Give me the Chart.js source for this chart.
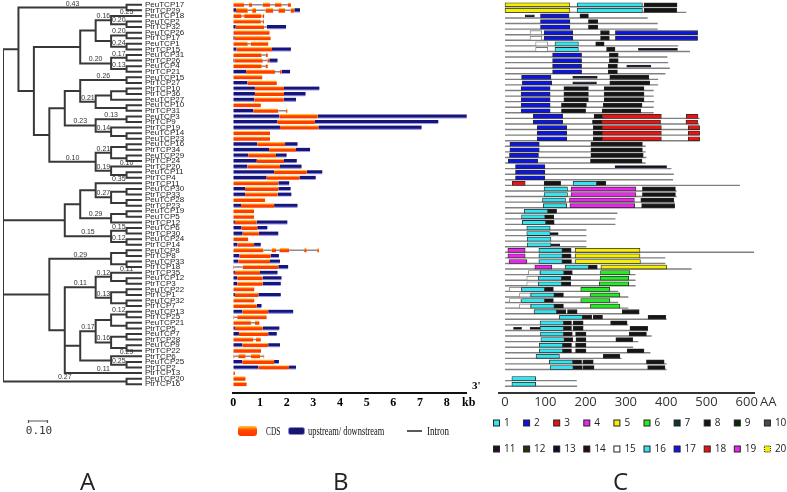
<!DOCTYPE html>
<html>
<head>
<meta charset="utf-8">
<script src="https://cdn.jsdelivr.net/npm/chart.js@4.4.1/dist/chart.umd.min.js"></script>
<style>
html, body { margin: 0; padding: 0; background: #fff; }
#wrap { position: relative; width: 787px; height: 492px; overflow: hidden; }
canvas { position: absolute; top: 0; }
.panel { position: absolute; top: 469px; font: 24px/24px "Open Sans", sans-serif; color: #222; }
</style>
</head>
<body>
<div id="wrap">
  <canvas id="treeChart" width="225" height="492" style="left:0"></canvas>
  <canvas id="geneChart" width="262" height="492" style="left:225px"></canvas>
  <canvas id="motifChart" width="300" height="492" style="left:487px"></canvas>
  <div class="panel" style="left:80px">A</div>
  <div class="panel" style="left:333px">B</div>
  <div class="panel" style="left:613px">C</div>
</div>
<script>
// 基因名（行顺序，自上而下）
const geneNames = [
  'PeuTCP17','PtrTCP29','PeuTCP18','PeuTCP2','PtrTCP32','PeuTCP26','PtrTCP17','PeuTCP1','PtrTCP15',
  'PeuTCP31','PtrTCP26','PeuTCP4','PtrTCP21','PeuTCP15','PtrTCP27','PtrTCP10','PtrTCP36','PeuTCP27',
  'PeuTCP10','PtrTCP31','PeuTCP3','PtrTCP9','PtrTCP19','PeuTCP14','PeuTCP23','PeuTCP16','PtrTCP34',
  'PeuTCP29','PtrTCP24','PtrTCP20','PeuTCP11','PtrTCP4','PtrTCP11','PeuTCP30','PtrTCP33','PeuTCP28',
  'PtrTCP23','PeuTCP19','PeuTCP5','PtrTCP12','PeuTCP6','PtrTCP30','PeuTCP24','PtrTCP14','PeuTCP8',
  'PtrTCP8','PeuTCP33','PtrTCP18','PtrTCP35','PeuTCP12','PtrTCP3','PeuTCP22','PtrTCP1','PeuTCP32',
  'PtrTCP7','PeuTCP13','PtrTCP25','PeuTCP21','PtrTCP5','PeuTCP7','PtrTCP28','PeuTCP9','PtrTCP22',
  'PtrTCP6','PeuTCP25','PtrTCP2','PtrTCP13','PeuTCP20','PtrTCP16'
];

// 进化树 (Newick, 节点后的数字为支持值, [..] 为末端枝的支持值)
const cladeC = '(((PeuTCP18[0.25],(PeuTCP2,PtrTCP32)0.20)0.16,((PeuTCP26,PtrTCP17)0.20,(PeuTCP1,PtrTCP15)0.24)),((PeuTCP31,PtrTCP26)0.17,(PeuTCP4,PtrTCP21)0.13)0.20)';
const cladeD = '((((PeuTCP15,PtrTCP27)0.26,(((PtrTCP10,PtrTCP36),PeuTCP27),(PeuTCP10,PtrTCP31))0.21),((PeuTCP3,PtrTCP9)0.13,(PtrTCP19,(PeuTCP14,PeuTCP23))0.14)0.23),(((PeuTCP16,PtrTCP34),(PeuTCP29,PtrTCP24))0.21,(PtrTCP20[0.10],(PeuTCP11,PtrTCP4))0.19)0.10)';
const cladeS = '(((PtrTCP11[0.35],((PeuTCP30,PtrTCP33),(PeuTCP28,PtrTCP23))0.27),((PeuTCP19,PeuTCP5),PtrTCP12)0.29),((PeuTCP6,PtrTCP30)0.15,(PeuTCP24,PtrTCP14)0.12)0.15)';
const cladeAB = '(((PtrTCP35[0.11],(PeuTCP12,PtrTCP3))0.12,((PeuTCP22,PtrTCP1),(PeuTCP32,PtrTCP7))0.13)0.11,((((PeuTCP13,PtrTCP25)0.12,(PeuTCP21,PtrTCP5)),((PeuTCP7,PtrTCP28),(PeuTCP9,PtrTCP22))0.16)0.17,(PtrTCP6[0.29],(PeuTCP25,PtrTCP2)0.25)),PtrTCP13[0.11]))';
const cladeZ = '((((PeuTCP8,PtrTCP8),(PeuTCP33,PtrTCP18))0.29,' + cladeAB + '),(PeuTCP20,PtrTCP16)0.27)';
const treeNewick = '(((PeuTCP17,PtrTCP29)0.43,(' + cladeC + ',' + cladeD + ')),' + cladeS + ',' + cladeZ + ');';

// 基因结构 (kb): [起点, 终点, 'C'=CDS / 'U'=上下游]
const geneSegments = [
  [[0,0.4,'C'],[0.59,0.71,'C'],[1.1,1.375,'C'],[1.56,1.81,'C'],[2.04,2.16,'C']],
  [[0,0.1,'U'],[0.1,0.54,'C'],[0.71,0.85,'C'],[1.21,1.5,'C'],[1.69,1.94,'C'],[2.15,2.29,'C'],[2.29,2.5,'U']],
  [[0,0.31,'C'],[0.41,1.04,'C'],[1.1,1.16,'C']],
  [[0,1.03,'C'],[1.1,1.15,'C']],
  [[0,0.09,'U'],[0.09,1.15,'C'],[1.26,1.98,'U']],
  [[0,1.36,'C']],
  [[0,0.05,'U'],[0.05,1.4,'C']],
  [[0,0.54,'C'],[0.65,1.31,'C']],
  [[0,0.12,'U'],[0.12,1.45,'C'],[1.45,2.16,'U']],
  [[0,1.06,'C'],[1.22,1.29,'C']],
  [[0,0.04,'U'],[0.04,1.1,'C'],[1.28,1.35,'C'],[1.35,1.66,'U']],
  [[0,1.06,'C'],[1.21,1.29,'C']],
  [[0,0.48,'U'],[0.48,1.56,'C'],[1.75,1.81,'C'],[1.81,2.13,'U']],
  [[0,1.09,'C']],
  [[0,0.53,'U'],[0.53,1.63,'C']],
  [[0,0.81,'U'],[0.81,1.9,'C'],[1.9,3.23,'U']],
  [[0,0.81,'U'],[0.81,1.9,'C'],[1.9,2.71,'U']],
  [[0,0.79,'U'],[0.79,1.89,'C'],[1.89,2.35,'U']],
  [[0,1.03,'C']],
  [[0,0.75,'U'],[0.75,1.69,'C'],[1.98,2.03,'C']],
  [[0,1.73,'U'],[1.73,3.16,'C'],[3.16,8.78,'U']],
  [[0,1.66,'U'],[1.66,3.06,'C'],[3.06,7.69,'U']],
  [[0,1.75,'U'],[1.75,3.19,'C'],[3.19,7.06,'U']],
  [[0,1.375,'C']],
  [[0,1.375,'C']],
  [[0,0.9,'U'],[0.9,1.94,'C'],[1.94,2.41,'U']],
  [[0,1.34,'U'],[1.34,2.35,'C'],[2.35,2.88,'U']],
  [[0,0.56,'U'],[0.56,1.6,'C'],[1.6,2.0,'U']],
  [[0,0.88,'U'],[0.88,1.9,'C'],[1.9,2.38,'U']],
  [[0,0.53,'U'],[0.53,1.75,'C'],[1.75,2.56,'U']],
  [[0,1.53,'U'],[1.53,2.75,'C'],[2.75,3.34,'U']],
  [[0,1.25,'U'],[1.25,2.48,'C'],[2.48,3.09,'U']],
  [[0,1.69,'C'],[1.69,2.1,'U']],
  [[0,0.44,'U'],[0.44,1.69,'C'],[1.69,2.15,'U']],
  [[0,0.44,'U'],[0.44,1.66,'C'],[1.66,2.18,'U']],
  [[0,1.19,'C']],
  [[0,0.29,'U'],[0.29,1.53,'C'],[1.53,2.41,'U']],
  [[0,0.78,'C']],
  [[0,0.78,'C']],
  [[0,0.06,'U'],[0.06,0.88,'C'],[0.88,2.03,'U']],
  [[0,0.31,'U'],[0.31,0.9,'C'],[0.9,1.28,'U']],
  [[0,0.35,'U'],[0.35,0.96,'C'],[0.96,1.69,'U']],
  [[0,0.56,'C']],
  [[0,0.16,'U'],[0.16,0.78,'C'],[0.78,1.03,'U']],
  [[0,1.13,'C'],[1.44,1.6,'C'],[1.73,2.09,'C'],[2.66,2.75,'C'],[3.15,3.21,'C']],
  [[0,0.23,'U'],[0.23,1.4,'C'],[1.4,1.71,'U']],
  [[0,0.19,'U'],[0.19,1.375,'C'],[1.375,1.75,'U']],
  [[0,0.03,'C'],[0.35,1.69,'C'],[1.69,2.06,'U']],
  [[0,0.06,'U'],[0.06,1.0,'C'],[1.0,1.66,'U']],
  [[0,0.15,'U'],[0.15,1.1,'C'],[1.1,1.81,'U']],
  [[0,0.15,'U'],[0.15,1.1,'C'],[1.1,1.78,'U']],
  [[0,0.79,'C']],
  [[0,0.06,'U'],[0.06,0.94,'C'],[0.94,1.78,'U']],
  [[0,0.79,'C']],
  [[0,0.88,'C'],[0.88,1.06,'U']],
  [[0,0.34,'U'],[0.34,1.31,'C'],[1.31,2.25,'U']],
  [[0,0.03,'C'],[0.15,1.25,'C']],
  [[0,0.66,'C'],[0.81,0.98,'C']],
  [[0,0.06,'U'],[0.06,1.1,'C'],[1.1,1.73,'U']],
  [[0,0.21,'U'],[0.21,1.31,'C'],[1.31,1.63,'U']],
  [[0,0.75,'C'],[0.85,1.03,'C']],
  [[0,0.34,'U'],[0.34,1.31,'C'],[1.31,1.75,'U']],
  [[0,1.04,'C']],
  [[0,0.04,'C'],[0.19,0.46,'C'],[0.66,1.0,'C'],[1.13,1.16,'C']],
  [[0,0.34,'U'],[0.34,1.53,'C'],[1.53,1.71,'U']],
  [[0,0.94,'U'],[0.94,2.09,'C'],[2.09,2.35,'U']],
  [[0,0.06,'C']],
  [[0,0.46,'C']],
  [[0,0.5,'C']]
];
const kbTicks = [0, 1, 2, 3, 4, 5, 6, 7, 8];

// 蛋白长度 (AA)
const proteinLength = [
  427,450,354,379,379,478,478,430,459,403,405,409,398,380,380,369,369,370,369,369,
  483,481,483,483,483,349,349,351,349,413,419,417,583,426,426,421,421,279,274,274,
  202,202,202,202,628,398,398,463,324,324,324,281,306,281,306,333,401,306,355,364,
  331,318,361,289,401,401,0,178,179
];
// 基序: [编号, 起点, 终点]
const motifHits = [
  [[5,0,161],[1,179,341],[8,345,427]],
  [[5,0,161],[1,179,341],[8,345,426]],
  [[13,50,73],[2,88,159],[8,186,207]],
  [[2,88,161],[8,207,230]],
  [[2,88,161],[8,207,230]],
  [[15,62,91],[2,97,168],[8,237,259],[2,274,478]],
  [[15,62,91],[2,97,168],[8,237,259],[2,274,478]],
  [[15,76,106],[1,124,182],[8,225,246]],
  [[15,76,106],[1,124,182],[8,252,273],[13,331,428]],
  [[2,118,190],[8,259,281]],
  [[2,118,190],[8,259,281]],
  [[2,118,190],[8,256,279],[13,302,362]],
  [[2,118,190],[8,256,279]],
  [[2,41,114],[13,168,229],[8,260,357]],
  [[2,43,116],[13,168,227],[8,260,359]],
  [[2,40,112],[8,146,207],[8,246,345]],
  [[2,40,112],[8,146,207],[8,246,345]],
  [[2,40,112],[8,146,207],[8,246,345]],
  [[2,40,112],[8,140,202],[8,244,340]],
  [[2,40,112],[8,140,200],[8,241,337]],
  [[2,70,143],[8,221,242],[3,242,388],[3,450,479]],
  [[2,70,143],[8,217,240],[3,240,386],[3,449,478]],
  [[2,80,153],[8,219,241],[3,241,388],[3,455,483]],
  [[2,80,153],[8,219,241],[3,241,388],[3,455,483]],
  [[2,80,153],[8,219,241],[3,241,388],[3,455,483]],
  [[2,12,85],[8,213,341]],
  [[2,12,85],[8,213,341]],
  [[2,11,83],[8,213,343]],
  [[2,8,81],[8,212,340]],
  [[2,26,99],[13,273,401]],
  [[2,26,99]],
  [[2,26,99]],
  [[3,18,50],[8,97,138],[1,169,227],[8,227,250]],
  [[1,97,155],[4,164,325],[8,341,423]],
  [[1,97,155],[4,164,325],[8,341,423]],
  [[1,93,150],[4,160,321],[8,337,419]],
  [[1,95,153],[4,161,322],[8,339,421]],
  [[1,48,106],[8,106,128]],
  [[1,41,99],[8,99,121]],
  [[1,43,101],[8,101,122]],
  [[1,54,112]],
  [[1,54,112],[13,112,132]],
  [[1,55,114]],
  [[1,55,114],[13,114,136]],
  [[4,7,50],[1,84,142],[8,142,164],[5,174,335]],
  [[4,7,50],[1,84,142],[8,142,164],[5,174,335]],
  [[4,10,54],[1,84,142],[8,142,165],[5,174,336]],
  [[4,74,116],[1,149,207],[8,207,229],[5,238,401]],
  [[15,58,87],[1,87,146],[8,146,167],[6,237,310]],
  [[15,54,83],[1,83,140],[8,140,163],[6,236,307]],
  [[15,54,83],[1,83,140],[8,140,163],[6,234,307]],
  [[15,11,41],[1,41,98],[8,98,120],[6,188,260]],
  [[15,36,64],[1,64,122],[8,122,145],[6,212,285]],
  [[15,11,40],[1,41,98],[8,98,120],[6,188,260]],
  [[15,36,64],[1,64,122],[8,122,145],[6,212,285]],
  [[1,72,128],[8,128,151],[8,155,179],[8,291,333]],
  [[1,135,192],[8,192,215],[8,219,242],[8,355,399]],
  [[1,87,145],[8,145,165],[8,169,194],[8,262,303]],
  [[13,21,41],[13,62,87],[1,87,145],[8,145,165],[8,169,194],[8,310,354]],
  [[1,88,145],[8,145,167],[8,175,201],[8,308,351]],
  [[1,89,147],[8,147,168],[8,176,201],[8,275,317]],
  [[1,85,143],[8,143,165],[8,175,201]],
  [[1,85,143],[8,143,165],[8,175,201],[8,303,345]],
  [[1,77,135],[8,244,285]],
  [[1,110,168],[8,168,190],[8,193,219],[8,351,395]],
  [[1,112,169],[8,169,192],[8,194,221],[8,354,397]],
  [],
  [[1,17,76]],
  [[1,17,76]]
];
const aaTicks = [0, 100, 200, 300, 400, 500, 600];
const motifIds = [1,2,3,4,5,6,7,8,9,10,11,12,13,14,15,16,17,18,19,20];
const motifColors = [
  '#35e4ee','#0c16e4','#ec1212','#ee24ee','#f4ee00','#22ec22','#0e3434','#151515','#0c260c','#4a4a4a',
  '#2c0c2c','#2e2e10','#0c0c2e','#2e0c0c','#ffffff','#35e4ee','#1212ee','#ec1212','#ee24ee','#f4ee00'
];

// 版面常量
const ROW_PX = 5.58;
const AREA_TOP = 2;
const AREA_BOTTOM = 393;
const PAGE_H = 492;
const Y_MAX = 0.5 + (AREA_BOTTOM - AREA_TOP) / ROW_PX;

// 解析 Newick
function parseNewick(s) {
    let i = 0;
    function node() {
        const n = { children: [], name: '', label: '' };
        if (s[i] === '(') {
            i++;
            n.children.push(node());
            while (s[i] === ',') { i++; n.children.push(node()); }
            i++; // ')'
            while (i < s.length && /[0-9.]/.test(s[i])) n.label += s[i++];
        } else {
            while (i < s.length && /[A-Za-z0-9_]/.test(s[i])) n.name += s[i++];
            if (s[i] === '[') {
                i++;
                while (s[i] !== ']') n.label += s[i++];
                i++;
            }
        }
        return n;
    }
    return node();
}

// 计算节点高度和行位置
function layoutTree(n) {
    if (!n.children.length) {
        n.height = 0;
        n.y = geneNames.indexOf(n.name) + 1;
        return;
    }
    n.children.forEach(layoutTree);
    n.height = 1 + Math.max(...n.children.map(c => c.height));
    n.y = (n.children[0].y + n.children[n.children.length - 1].y) / 2;
}

const treeRoot = parseNewick(treeNewick);
layoutTree(treeRoot);
const treeDepth = treeRoot.height;
const treeSegments = [];
const supportLabels = [];

function collectBranches(n, parentX) {
    n.x = treeDepth - n.height;
    if (n.label && parentX !== null) {
        supportLabels.push({ x: (parentX + n.x) / 2, y: n.y, text: n.label });
    }
    if (!n.children.length) return;
    n.children.forEach(c => { c.x = treeDepth - c.height; });
    const first = n.children[0];
    const last = n.children[n.children.length - 1];
    treeSegments.push(
        { x: first.x, y: first.y }, { x: n.x, y: first.y },
        { x: n.x, y: last.y }, { x: last.x, y: last.y },
        { x: null, y: null }
    );
    n.children.slice(1, -1).forEach(c => {
        treeSegments.push({ x: n.x, y: c.y }, { x: c.x, y: c.y }, { x: null, y: null });
    });
    n.children.forEach(c => collectBranches(c, n.x));
}
collectBranches(treeRoot, null);

// 进化树上的支持值、比例尺
const treeExtras = {
    id: 'treeExtras',
    afterDatasetsDraw(chart) {
        const { ctx, scales: { x, y } } = chart;
        ctx.save();
        ctx.font = '7px "Liberation Sans", Arial, sans-serif';
        ctx.fillStyle = '#333';
        ctx.textAlign = 'center';
        ctx.textBaseline = 'bottom';
        supportLabels.forEach(l => {
            ctx.fillText(l.text, x.getPixelForValue(l.x), y.getPixelForValue(l.y) - 0.5);
        });
        ctx.strokeStyle = '#555';
        ctx.lineWidth = 1.2;
        ctx.beginPath();
        ctx.moveTo(28, 421); ctx.lineTo(48, 421);
        ctx.moveTo(28.5, 420); ctx.lineTo(28.5, 423);
        ctx.moveTo(47.5, 420); ctx.lineTo(47.5, 423);
        ctx.stroke();
        ctx.font = '11px "DejaVu Sans Mono", monospace';
        ctx.fillStyle = '#333';
        ctx.textBaseline = 'middle';
        ctx.fillText('0.10', 39, 431);
        ctx.restore();
    }
};

new Chart(document.getElementById('treeChart'), {
    type: 'line',
    data: {
        datasets: [{
            data: treeSegments,
            borderColor: '#383838',
            borderWidth: 2,
            borderCapStyle: 'square',
            borderJoinStyle: 'miter',
            pointRadius: 0,
            spanGaps: false,
            fill: false
        }]
    },
    options: {
        responsive: false,
        animation: false,
        events: [],
        layout: { padding: { left: 3, top: AREA_TOP, right: 0, bottom: PAGE_H - AREA_BOTTOM } },
        plugins: { legend: { display: false }, tooltip: { enabled: false } },
        scales: {
            x: { type: 'linear', min: 0, max: treeDepth, display: false },
            y: {
                type: 'linear',
                position: 'right',
                min: 0.5,
                max: Y_MAX,
                reverse: true,
                grid: { display: false, drawTicks: false },
                border: { display: false },
                afterBuildTicks: s => { s.ticks = geneNames.map((n, i) => ({ value: i + 1 })); },
                afterFit: s => { s.width = 83; s.paddingTop = 0; s.paddingBottom = 0; },
                ticks: {
                    autoSkip: false,
                    padding: 3,
                    color: '#1e1e1e',
                    font: { family: '"Liberation Sans", Arial, sans-serif', size: 8 },
                    callback: v => geneNames[v - 1]
                }
            }
        }
    },
    plugins: [treeExtras]
});

// 基因结构数据
const cdsData = [], utrData = [], intronData = [];
geneSegments.forEach((segs, i) => {
    const row = i + 1;
    segs.forEach((s, j) => {
        (s[2] === 'C' ? cdsData : utrData).push({ x: [s[0], s[1]], y: row });
        if (j > 0 && s[0] > segs[j - 1][1]) {
            intronData.push({ x: segs[j - 1][1], y: row }, { x: s[0], y: row }, { x: null, y: null });
        }
    });
});

function condensedText(ctx, text, x, y, sx) {
    ctx.save();
    ctx.translate(x, y);
    ctx.scale(sx, 1);
    ctx.fillText(text, 0, 0);
    ctx.restore();
}

const geneExtras = {
    id: 'geneExtras',
    afterDraw(chart) {
        const { ctx } = chart;
        ctx.save();
        ctx.fillStyle = '#000';
        ctx.textAlign = 'left';
        ctx.textBaseline = 'middle';
        ctx.font = 'bold 12px "Liberation Serif", serif';
        ctx.fillText('kb', 237, 403);
        ctx.font = 'bold 11px "Liberation Serif", serif';
        ctx.fillText("3'", 247, 386);
        // 图例
        const g = ctx.createLinearGradient(0, 426, 0, 436);
        g.addColorStop(0, '#ffcc33');
        g.addColorStop(0.4, '#ff4a00');
        g.addColorStop(1, '#ff3300');
        ctx.fillStyle = g;
        ctx.beginPath();
        ctx.roundRect(13, 426, 19, 10, 3);
        ctx.fill();
        ctx.fillStyle = '#16166e';
        ctx.strokeStyle = '#8a8ad8';
        ctx.lineWidth = 1;
        ctx.beginPath();
        ctx.roundRect(63.5, 427.5, 16, 7, 2);
        ctx.fill();
        ctx.stroke();
        ctx.strokeStyle = '#222';
        ctx.lineWidth = 1.5;
        ctx.beginPath();
        ctx.moveTo(182, 431);
        ctx.lineTo(197, 431);
        ctx.stroke();
        ctx.fillStyle = '#111';
        ctx.font = '12px "Liberation Serif", serif';
        condensedText(ctx, 'CDS', 41, 432, 0.62);
        condensedText(ctx, 'upstream/ downstream', 83, 432, 0.7);
        condensedText(ctx, 'Intron', 202, 432, 0.75);
        ctx.restore();
    }
};

const rowAxis = { type: 'linear', min: 0.5, max: Y_MAX, reverse: true, offset: false, display: false };

new Chart(document.getElementById('geneChart'), {
    type: 'bar',
    data: {
        datasets: [
            {
                label: 'CDS',
                indexAxis: 'y',
                data: cdsData,
                grouped: false,
                barThickness: 4,
                backgroundColor: '#ff3d00',
                borderColor: '#ffbf2a',
                borderWidth: { top: 1.2, right: 0, bottom: 0, left: 0 },
                borderSkipped: false,
                order: 1
            },
            {
                label: 'upstream/ downstream',
                indexAxis: 'y',
                data: utrData,
                grouped: false,
                barThickness: 4,
                backgroundColor: '#15157a',
                borderColor: '#9c9ce6',
                borderWidth: { top: 0, right: 0, bottom: 1.2, left: 0 },
                borderSkipped: false,
                order: 1
            },
            {
                type: 'line',
                label: 'Intron',
                data: intronData,
                borderColor: '#8c8c8c',
                borderWidth: 1.5,
                pointRadius: 0,
                spanGaps: false,
                order: 5
            }
        ]
    },
    options: {
        responsive: false,
        animation: false,
        events: [],
        layout: { padding: { left: 8.3, right: 20.3, top: AREA_TOP, bottom: PAGE_H - AREA_BOTTOM - 20 } },
        plugins: { legend: { display: false }, tooltip: { enabled: false } },
        scales: {
            x: {
                type: 'linear',
                position: 'bottom',
                min: 0,
                max: 8.75,
                offset: false,
                grid: { display: false, drawTicks: false },
                border: { display: true, color: '#111', width: 2 },
                afterBuildTicks: s => { s.ticks = kbTicks.map(v => ({ value: v })); },
                afterFit: s => { s.height = 20; s.paddingLeft = 0; s.paddingRight = 0; },
                ticks: {
                    autoSkip: false,
                    maxRotation: 0,
                    padding: 3,
                    color: '#000',
                    font: { family: '"Liberation Serif", serif', size: 12, weight: 'bold' }
                }
            },
            y: rowAxis
        }
    },
    plugins: [geneExtras]
});

// 基序数据
const motifDatasets = motifIds.map(id => {
    const data = [];
    motifHits.forEach((hits, i) => {
        hits.forEach(h => { if (h[0] === id) data.push({ x: [h[1], h[2]], y: i + 1 }); });
    });
    return {
        label: String(id),
        indexAxis: 'y',
        data,
        grouped: false,
        barThickness: id === 13 ? 2 : 4,
        backgroundColor: motifColors[id - 1],
        borderColor: id === 15 ? '#777' : '#2a2a2a',
        borderWidth: 0.8,
        borderSkipped: false,
        order: 1
    };
}).filter(d => d.data.length);

const proteinLines = [];
proteinLength.forEach((len, i) => {
    if (len > 0) proteinLines.push({ x: 0, y: i + 1.36 }, { x: len, y: i + 1.36 }, { x: null, y: null });
});

const motifExtras = {
    id: 'motifExtras',
    afterDraw(chart) {
        const { ctx } = chart;
        ctx.save();
        ctx.fillStyle = '#333';
        ctx.textAlign = 'left';
        ctx.textBaseline = 'middle';
        ctx.font = '13px "Open Sans", sans-serif';
        ctx.fillText('AA', 273, 402);
        ctx.font = '10px "Open Sans", sans-serif';
        motifIds.forEach((id, k) => {
            const bx = 6.5 + 30.1 * (k % 10);
            const by = k < 10 ? 423 : 449;
            ctx.fillStyle = motifColors[id - 1];
            ctx.fillRect(bx, by - 3, 6, 6);
            ctx.strokeStyle = '#222';
            ctx.lineWidth = 1;
            ctx.setLineDash(id === 20 ? [1, 1] : []);
            ctx.strokeRect(bx, by - 3, 6, 6);
            ctx.fillStyle = '#222';
            ctx.fillText(String(id), bx + 10.5, by + 0.5);
        });
        ctx.restore();
    }
};

new Chart(document.getElementById('motifChart'), {
    type: 'bar',
    data: {
        datasets: motifDatasets.concat([{
            type: 'line',
            label: 'protein',
            data: proteinLines,
            borderColor: '#808080',
            borderWidth: 1.4,
            pointRadius: 0,
            spanGaps: false,
            order: 5
        }])
    },
    options: {
        responsive: false,
        animation: false,
        events: [],
        layout: { padding: { left: 12, right: 33, top: AREA_TOP, bottom: PAGE_H - AREA_BOTTOM - 20 } },
        plugins: { legend: { display: false }, tooltip: { enabled: false } },
        scales: {
            x: {
                type: 'linear',
                position: 'bottom',
                min: -15,
                max: 618,
                offset: false,
                grid: { display: false, drawTicks: false },
                border: { display: true, color: '#333', width: 2 },
                afterBuildTicks: s => { s.ticks = aaTicks.map(v => ({ value: v })); },
                afterFit: s => { s.height = 20; s.paddingLeft = 0; s.paddingRight = 0; },
                ticks: {
                    autoSkip: false,
                    maxRotation: 0,
                    padding: 1,
                    color: '#333',
                    font: { family: '"Open Sans", sans-serif', size: 13 }
                }
            },
            y: rowAxis
        }
    },
    plugins: [motifExtras]
});
</script>
</body>
</html>
